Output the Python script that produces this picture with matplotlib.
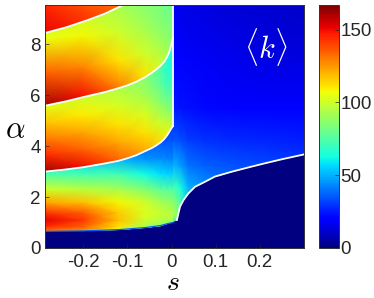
import numpy as np
import matplotlib
matplotlib.use("Agg")
import matplotlib.pyplot as plt
from matplotlib.colors import Normalize
from matplotlib.patches import Polygon

plt.rcParams['font.family'] = ['Liberation Sans', 'DejaVu Sans']
plt.rcParams['mathtext.fontset'] = 'cm'
plt.rcParams['axes.unicode_minus'] = False

# ---- data ----
A_TOP = 9.53

# white boundary curves, s < 0 side
s_curve = [-0.29, -0.24, -0.2, -0.15, -0.12, -0.1, -0.08, -0.06, -0.045,
           -0.035, -0.025, -0.017, -0.01, -0.005, -0.001, 0.003]
a_c1 = [2.99, 3.08, 3.17, 3.32, 3.42, 3.52, 3.64, 3.8, 3.92,
        4.02, 4.14, 4.27, 4.42, 4.56, 4.68, 4.78]
a_c2 = [5.57, 5.75, 5.92, 6.12, 6.27, 6.38, 6.52, 6.7, 6.87,
        7.0, 7.15, 7.3, 7.5, 7.7, 7.95, 8.25]
s_c3 = [-0.29, -0.24, -0.19, -0.15, -0.11]
a_c3 = [8.42, 8.65, 8.94, 9.2, 9.53]

# white boundary curve, s > 0 side
s_c0 = [0.003, 0.012, 0.019, 0.027, 0.038, 0.053, 0.076, 0.098, 0.136,
        0.174, 0.211, 0.25, 0.3]
a_c0 = [1.0, 1.1, 1.62, 1.88, 2.14, 2.4, 2.6, 2.8, 2.99, 3.16, 3.32, 3.48, 3.67]

# lower edge of the coloured zone for s < 0
s_left = [-0.29, -0.2, -0.12, -0.06, -0.025, -0.01, 0.003]
a_floor = [0.65, 0.67, 0.72, 0.8, 0.88, 0.95, 1.0]

# <k> below c1: rows at alpha values a_b1, columns at s_left
a_b1 = [0.6, 0.72, 0.85, 1.1, 1.4, 1.8, 2.3, 2.9, 3.5, 4.2, 4.9]
k_b1 = [[130, 125, 100, 80, 70, 60, 50],
        [135, 128, 105, 85, 75, 65, 55],
        [145, 135, 112, 93, 85, 78, 70],
        [152, 142, 118, 100, 96, 95, 95],
        [142, 135, 116, 103, 98, 96, 94],
        [122, 118, 108, 100, 92, 90, 88],
        [100, 96, 92, 85, 78, 76, 75],
        [74, 72, 72, 62, 58, 56, 56],
        [60, 55, 50, 45, 44, 43, 42],
        [50, 45, 40, 36, 35, 35, 35],
        [45, 40, 35, 32, 30, 30, 30]]

# <k> between c1 and c2 / c2 and top: rows at fraction t of band height
t_b2 = [0, 0.25, 0.5, 0.75, 1.0]
k_b2 = [[162, 150, 135, 122, 113, 108, 100],
        [145, 135, 122, 112, 100, 92, 82],
        [130, 122, 112, 102, 88, 78, 68],
        [117, 110, 102, 92, 78, 68, 62],
        [104, 100, 94, 85, 73, 66, 62]]

t_b3 = [0, 0.33, 0.67, 1.0]
k_b3 = [[162, 150, 130, 112, 100, 93, 86],
        [135, 128, 112, 100, 92, 88, 84],
        [106, 108, 100, 92, 86, 84, 81],
        [85, 95, 92, 86, 83, 81, 79]]

# top-left corner above c3
s_b4 = [-0.29, -0.2, -0.11]
a_b4 = [8.3, A_TOP]
k_b4 = [[152, 148, 140],
        [145, 138, 132]]

# <k> above c0 (s > 0)
s_right = [0.003, 0.019, 0.038, 0.076, 0.136, 0.211, 0.3]
a_r = [0.9, 1.3, 1.8, 2.4, 3.2, 4.2, 5.5, 7.5, A_TOP]
k_r = [[60, 70, 55, 45, 38, 33, 31],
       [94, 80, 55, 45, 38, 33, 31],
       [88, 76, 55, 45, 38, 33, 31],
       [74, 64, 50, 45, 38, 33, 31],
       [52, 48, 40, 37, 35, 33, 31],
       [36, 34, 31, 29, 28, 27, 26],
       [25, 24, 23, 22, 21, 20, 19],
       [20, 19, 18, 17, 16, 15, 14],
       [17, 16, 15, 14, 13, 12, 11]]

cb_ticks = [0, 50, 100, 150]
K_MAX = 167


def at(s_list, a_list, s_pick):
    return [a_list[s_list.index(v)] for v in s_pick]


def shade(ax, X, Y, k, pts, norm):
    # drawn twice so the seams between gouraud triangles do not show
    for _ in range(2):
        m = ax.pcolormesh(X, Y, k, shading='gouraud', cmap='jet', norm=norm)
        m.set_clip_path(Polygon(pts, closed=True, transform=ax.transData))
    return m


def band(ax, s, lo, hi, t, k, pts, norm):
    # mesh in band coordinates, padded past both edges, cut to the polygon
    s = np.asarray(s, float)
    lo = np.asarray(lo, float)
    hi = np.asarray(hi, float)
    k = np.asarray(k, float)
    t = np.concatenate([[-0.25], t, [1.25]])[:, None]
    k = np.vstack([k[:1], k, k[-1:]])
    X = np.broadcast_to(s, (t.shape[0], s.size))
    Y = lo + t * (hi - lo)
    return shade(ax, X, Y, k, pts, norm)


def rect(ax, s, a, k, pts, norm):
    X, Y = np.meshgrid(s, a)
    return shade(ax, X, Y, np.asarray(k, float), pts, norm)


fig = plt.figure(figsize=(3.74, 2.98), dpi=100)
ax = fig.add_axes([0.1203, 0.1678, 0.6925, 0.8154])
ax.set_facecolor(plt.cm.jet(0.0))
norm = Normalize(0, K_MAX)

c1_left = at(s_curve, a_c1, s_left)
c2_left = at(s_curve, a_c2, s_left)
top_left = [A_TOP] * len(s_left)

poly_b1 = list(zip(s_left, a_floor)) + list(zip(s_curve, a_c1))[::-1]
poly_b2 = list(zip(s_curve, a_c1)) + list(zip(s_curve, a_c2))[::-1]
poly_b3 = (list(zip(s_curve, a_c2)) + [(s_curve[-1], A_TOP)]
           + list(zip(s_c3, a_c3))[::-1])
poly_b4 = list(zip(s_c3, a_c3)) + [(s_c3[0], A_TOP + 1)]
poly_r = list(zip(s_c0, a_c0)) + [(s_c0[-1], A_TOP + 1), (s_c0[0], A_TOP + 1)]

m = rect(ax, s_left, a_b1, k_b1, poly_b1, norm)
band(ax, s_left, c1_left, c2_left, t_b2, k_b2, poly_b2, norm)
band(ax, s_left, c2_left, top_left, t_b3, k_b3, poly_b3, norm)
rect(ax, s_b4, a_b4, k_b4, poly_b4, norm)
rect(ax, s_right, a_r, k_r, poly_r, norm)

# thin blue rim where the coloured zone drops to zero
ax.plot(s_left, a_floor, color=plt.cm.jet(0.22), lw=0.9)

lw = 1.3
ax.plot(s_curve, a_c1, color='w', lw=lw)
ax.plot(s_curve, a_c2, color='w', lw=lw)
ax.plot(s_c3, a_c3, color='w', lw=lw)
ax.plot([s_curve[-1]] * 2, [a_c1[-1], A_TOP], color='w', lw=lw)
ax.plot(s_c0[1:], a_c0[1:], color='w', lw=lw)

ax.set_xlim(-0.287, 0.3)
ax.set_ylim(0, A_TOP)
ax.set_xticks([-0.2, -0.1, 0, 0.1, 0.2])
ax.set_xticklabels(['-0.2', '-0.1', '0', '0.1', '0.2'])
ax.set_yticks([0, 2, 4, 6, 8])
ax.tick_params(direction='in', length=3, width=0.5, labelsize=13.5, colors='#262626')
ax.tick_params(axis='x', pad=4)
ax.tick_params(axis='y', pad=3)
for sp in ax.spines.values():
    sp.set_color('#333333')
    sp.set_linewidth(0.7)

ax.set_xlabel(r'$s$', fontsize=20)
ax.xaxis.set_label_coords(0.494, -0.146)
ax.xaxis.label.set_va('center')
ax.set_ylabel(r'$\alpha$', fontsize=22, rotation=0)
ax.yaxis.set_label_coords(-0.116, 0.486)
ax.yaxis.label.set_va('center')
ax.yaxis.label.set_ha('center')

ax.text(0.214, 7.88, r'$\langle k\rangle$', color='w', fontsize=22,
        ha='center', va='center')

cax = fig.add_axes([0.853, 0.1678, 0.0535, 0.8154])
cb = fig.colorbar(m, cax=cax, ticks=cb_ticks)
cax.tick_params(direction='in', length=3, width=0.5, labelsize=13.5, pad=1, colors='#262626')
cb.outline.set_edgecolor('#333333')
cb.outline.set_linewidth(0.7)

fig.savefig('out.png', dpi=100)
